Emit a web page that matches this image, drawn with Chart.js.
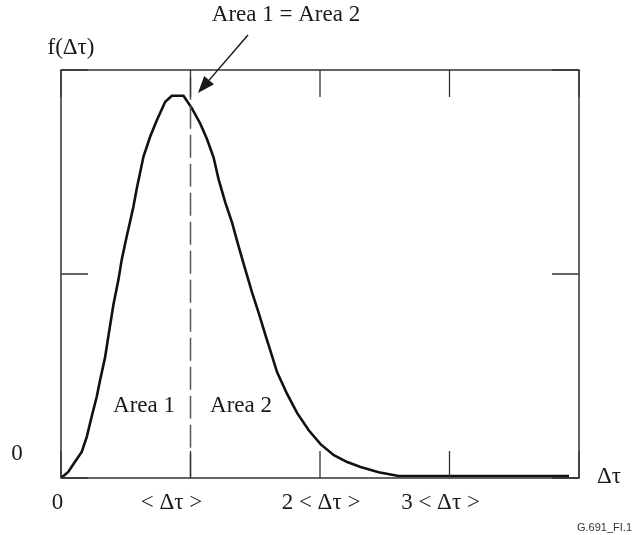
<!DOCTYPE html>
<html>
<head>
<meta charset="utf-8">
<title>f(Δτ)</title>
<script src="https://cdn.jsdelivr.net/npm/chart.js@4.4.0/dist/chart.umd.min.js"></script>
<style>
  html, body { margin: 0; padding: 0; background: #fff; }
  #wrap { width: 639px; height: 535px; }
</style>
</head>
<body>
<div id="wrap"><canvas id="dgd" width="639" height="535"></canvas></div>
<script>
// DGD density, x in units of the mean <Δτ>, y relative to the frame height
const curveX = [0, 0.056, 0.108, 0.160, 0.199, 0.238, 0.276, 0.302, 0.340, 0.366,
  0.405, 0.443, 0.470, 0.508, 0.521, 0.559, 0.586, 0.637, 0.689, 0.740,
  0.805, 0.856, 0.946, 1.011, 1.075, 1.127, 1.178, 1.217, 1.269, 1.321,
  1.372, 1.424, 1.475, 1.527, 1.586, 1.604, 1.669, 1.746, 1.824, 1.913,
  2.004, 2.107, 2.210, 2.313, 2.453, 2.607, 3.923];
const curveY = [0, 0.015, 0.040, 0.064, 0.101, 0.152, 0.199, 0.240, 0.295, 0.348,
  0.425, 0.485, 0.537, 0.593, 0.611, 0.665, 0.711, 0.788, 0.837, 0.877,
  0.922, 0.937, 0.937, 0.906, 0.869, 0.831, 0.786, 0.732, 0.675, 0.626,
  0.567, 0.510, 0.455, 0.404, 0.343, 0.325, 0.259, 0.206, 0.159, 0.117,
  0.083, 0.056, 0.039, 0.027, 0.014, 0.005, 0.005];

const xTicks = [0, 1, 2, 3, 4];
const xTickLabels = ["0", "< Δτ >", "2 < Δτ >", "3 < Δτ >", ""];
const yTicks = [0, 0.5, 1];
const meanDelay = 1;

const SERIF = '23px "Liberation Serif", "Times New Roman", serif';
const INK = "#1a1a1a";
const FRAME = "#333";
// small horizontal shifts of the x tick captions
const labelNudge = [-3.5, -19, 1, -9, 0];

const framePlugin = {
  id: "frame",
  afterDatasetsDraw(chart) {
    const { ctx, chartArea: a, scales: { x, y } } = chart;
    const tickLen = 27;
    ctx.save();

    // dashed line at the mean
    const mx = x.getPixelForValue(meanDelay);
    ctx.strokeStyle = "#555";
    ctx.lineWidth = 1.5;
    ctx.setLineDash([23, 6]);
    ctx.lineDashOffset = 22.3;
    ctx.beginPath();
    ctx.moveTo(mx, a.top);
    ctx.lineTo(mx, a.bottom);
    ctx.stroke();
    ctx.setLineDash([]);

    // frame
    ctx.strokeStyle = FRAME;
    ctx.lineWidth = 1.5;
    ctx.strokeRect(a.left, a.top, a.right - a.left, a.bottom - a.top);

    // inward ticks on all four sides
    ctx.lineWidth = 1.3;
    ctx.beginPath();
    xTicks.forEach(v => {
      const px = x.getPixelForValue(v);
      ctx.moveTo(px, a.top); ctx.lineTo(px, a.top + tickLen);
      ctx.moveTo(px, a.bottom); ctx.lineTo(px, a.bottom - tickLen);
    });
    yTicks.forEach(v => {
      const py = y.getPixelForValue(v);
      ctx.moveTo(a.left, py); ctx.lineTo(a.left + tickLen, py);
      ctx.moveTo(a.right, py); ctx.lineTo(a.right - tickLen, py);
    });
    ctx.stroke();

    // captions
    ctx.fillStyle = INK;
    ctx.font = SERIF;
    ctx.textAlign = "center";
    ctx.textBaseline = "middle";
    xTicks.forEach((v, i) => {
      ctx.fillText(xTickLabels[i], x.getPixelForValue(v) + labelNudge[i], a.bottom + 25);
    });
    ctx.fillText("0", 17, y.getPixelForValue(0) - 24);
    ctx.fillText("f(Δτ)", 71, 48);
    ctx.fillText("Δτ", 609, a.bottom - 1);
    ctx.fillText("Area 1", 144, 406);
    ctx.fillText("Area 2", 241, 406);
    ctx.fillText("Area 1 = Area 2", 286, 15);

    // arrow pointing at the mean line
    const tipX = 198, tipY = 93, fromX = 248, fromY = 35;
    const ang = Math.atan2(tipY - fromY, tipX - fromX);
    const head = 17, half = 6.5;
    const bx = tipX - head * Math.cos(ang), by = tipY - head * Math.sin(ang);
    ctx.strokeStyle = INK;
    ctx.lineWidth = 1.5;
    ctx.beginPath();
    ctx.moveTo(fromX, fromY);
    ctx.lineTo(bx, by);
    ctx.stroke();
    ctx.beginPath();
    ctx.moveTo(tipX, tipY);
    ctx.lineTo(bx + half * Math.sin(ang), by - half * Math.cos(ang));
    ctx.lineTo(bx - half * Math.sin(ang), by + half * Math.cos(ang));
    ctx.closePath();
    ctx.fill();

    // figure tag
    ctx.font = '11px "Liberation Sans", Arial, sans-serif';
    ctx.fillStyle = "#333";
    ctx.textAlign = "left";
    ctx.fillText("G.691_FI.1", 577, 528);
    ctx.restore();
  }
};

new Chart(document.getElementById("dgd"), {
  type: "line",
  data: {
    datasets: [{
      data: curveX.map((v, i) => ({ x: v, y: curveY[i] })),
      borderColor: "#111",
      borderWidth: 2.6,
      pointRadius: 0,
      tension: 0,
      fill: false
    }]
  },
  options: {
    responsive: false,
    animation: false,
    layout: { padding: { left: 61, top: 70, right: 60, bottom: 57 } },
    plugins: { legend: { display: false }, tooltip: { enabled: false } },
    scales: {
      x: { type: "linear", min: 0, max: 4, display: false },
      y: { type: "linear", min: 0, max: 1, display: false }
    }
  },
  plugins: [framePlugin]
});
</script>
</body>
</html>
